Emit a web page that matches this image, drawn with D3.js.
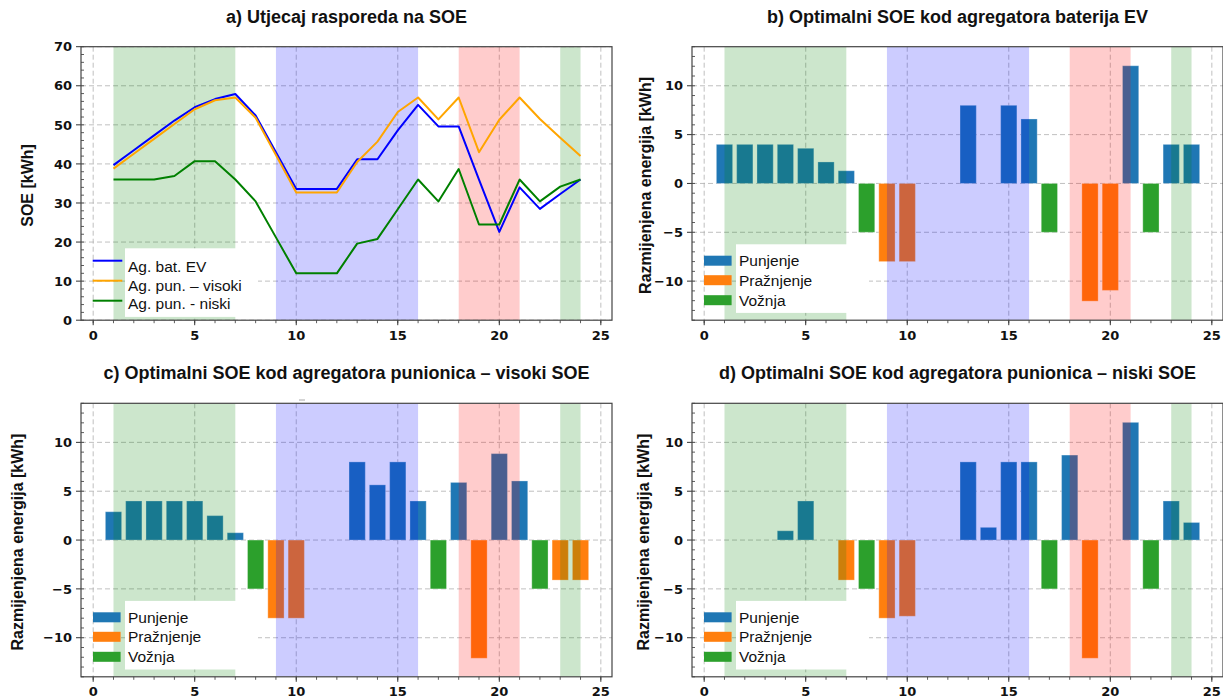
<!DOCTYPE html>
<html>
<head>
<meta charset="utf-8">
<script src="https://cdn.jsdelivr.net/npm/d3@7"></script>
<style>
  body { margin: 0; background: #fff; }
  text { fill: #111; }
</style>
</head>
<body>
<div id="chart"></div>
<script>
// hours of the day
var hours = d3.range(1, 25);

// a) SOE of the three aggregators [kWh]
var soeBat     = [39.7, 43.5, 47.3, 51.1, 54.5, 56.6, 57.9, 52.4, 43.0, 33.6, 33.6, 33.6, 41.2, 41.2, 48.6, 55.1, 49.6, 49.6, 36.0, 22.6, 34.0, 28.5, 32.3, 36.0];
var soeVisoki  = [38.8, 42.6, 46.4, 50.2, 54.0, 56.3, 57.0, 51.8, 42.3, 32.7, 32.7, 32.7, 40.5, 45.7, 53.3, 57.0, 51.4, 57.0, 43.0, 51.3, 57.0, 51.5, 46.7, 42.0];
var soeNiski   = [36.0, 36.0, 36.0, 36.9, 40.7, 40.7, 36.0, 30.4, 21.2, 12.0, 12.0, 12.0, 19.6, 20.8, 28.4, 36.0, 30.4, 38.7, 24.5, 24.5, 36.0, 30.4, 34.2, 36.0];

// exchanged energy [kWh], one value per hour, 0 = no bar
var voznja       = [0, 0, 0, 0, 0, 0, 0, -5, 0, 0, 0, 0, 0, 0, 0, 0, -5, 0, 0, 0, 0, -5, 0, 0];
var bPunjenje    = [4, 4, 4, 4, 3.6, 2.2, 1.3, 0, 0, 0, 0, 0, 8, 0, 8, 6.6, 0, 0, 0, 0, 12.05, 0, 4, 4];
var bPraznjenje  = [0, 0, 0, 0, 0, 0, 0, 0, -8, -8, 0, 0, 0, 0, 0, 0, 0, 0, -12.05, -10.95, 0, 0, 0, 0];
var cPunjenje    = [2.9, 4, 4, 4, 4, 2.5, 0.75, 0, 0, 0, 0, 0, 8, 5.65, 8, 4, 0, 5.9, 0, 8.85, 6.05, 0, 0, 0];
var cPraznjenje  = [0, 0, 0, 0, 0, 0, 0, 0, -8, -8, 0, 0, 0, 0, 0, 0, 0, 0, -12.1, 0, 0, 0, -4.1, -4.1];
var dPunjenje    = [0, 0, 0, 0.95, 4, 0, 0, 0, 0, 0, 0, 0, 8, 1.3, 8, 8, 0, 8.7, 0, 0, 12.05, 0, 4, 1.8];
var dPraznjenje  = [0, 0, 0, 0, 0, 0, -4.1, 0, -8, -7.8, 0, 0, 0, 0, 0, 0, 0, 0, -12.1, 0, 0, 0, 0, 0];

// shaded periods
var spanStart = [1, 9, 18, 23];
var spanEnd   = [7, 16, 21, 24];
var spanColor = ["green", "blue", "red", "green"];

var lineNames = ["Ag. bat. EV", "Ag. pun. \u2013 visoki", "Ag. pun. - niski"];
var barNames  = ["Punjenje", "Pra\u017enjenje", "Vo\u017enja"];

var svg = d3.select("#chart").append("svg")
    .attr("width", 1223)
    .attr("height", 698);

var axW = 531, axH = 273.5;
var panels = [
  {title: "a) Utjecaj rasporeda na SOE", left: 81, top: 46.7, ylabel: "SOE [kWh]", labX: -54, type: "line"},
  {title: "b) Optimalni SOE kod agregatora baterija EV", left: 692, top: 46.7, ylabel: "Razmijenjena energija [kWh]", labX: -47,
   series: [bPunjenje, bPraznjenje, voznja]},
  {title: "c) Optimalni SOE kod agregatora punionica \u2013 visoki SOE", left: 81, top: 403.3, ylabel: "Razmijenjena energija [kWh]", labX: -64,
   series: [cPunjenje, cPraznjenje, voznja]},
  {title: "d) Optimalni SOE kod agregatora punionica \u2013 niski SOE", left: 692, top: 403.3, ylabel: "Razmijenjena energija [kWh]", labX: -49,
   series: [dPunjenje, dPraznjenje, voznja]}
];

var barColors = ["#1f77b4", "#ff7f0e", "#2ca02c"];
var lineColors = ["blue", "orange", "green"];

panels.forEach(function(p) {
  var g = svg.append("g").attr("transform", "translate(" + p.left + "," + p.top + ")");

  var x = d3.scaleLinear().domain([-0.6, 25.55]).range([0, axW]);
  var y = p.type == "line"
      ? d3.scaleLinear().domain([0, 70]).range([axH, 0])
      : d3.scaleLinear().domain([-14, 14]).range([axH, 0]);
  var yMajor = p.type == "line" ? d3.range(0, 71, 10) : [-10, -5, 0, 5, 10];
  var yMinor = p.type == "line" ? d3.range(0, 71, 2) : d3.range(-14, 15, 1);

  var clip = "clip-" + p.title[0];
  g.append("clipPath").attr("id", clip).append("rect").attr("width", axW).attr("height", axH);
  var inner = g.append("g").attr("clip-path", "url(#" + clip + ")");

  // grid
  inner.selectAll(".gx").data([0, 5, 10, 15, 20, 25]).enter().append("line")
      .attr("x1", function(d) { return x(d); }).attr("x2", function(d) { return x(d); })
      .attr("y1", 0).attr("y2", axH)
      .attr("stroke", "#b0b0b0").attr("stroke-width", 0.8).attr("stroke-dasharray", "5,3");
  inner.selectAll(".gy").data(yMajor).enter().append("line")
      .attr("x1", 0).attr("x2", axW)
      .attr("y1", function(d) { return y(d); }).attr("y2", function(d) { return y(d); })
      .attr("stroke", "#b0b0b0").attr("stroke-width", 0.8).attr("stroke-dasharray", "5,3");

  if (p.type != "line") {
    // bars
    p.series.forEach(function(vals, k) {
      inner.append("g").selectAll("rect")
        .data(hours.filter(function(h) { return vals[h - 1] != 0; }))
        .enter().append("rect")
          .attr("x", function(h) { return x(h - 0.4); })
          .attr("width", x(0.8) - x(0))
          .attr("y", function(h) { return y(Math.max(0, vals[h - 1])); })
          .attr("height", function(h) { return Math.abs(y(vals[h - 1]) - y(0)); })
          .attr("fill", barColors[k])
          .attr("stroke", "#fff").attr("stroke-opacity", 0.3).attr("stroke-width", 1);
    });
  }

  // shaded periods
  spanStart.forEach(function(s, i) {
    inner.append("rect")
      .attr("x", x(s)).attr("width", x(spanEnd[i]) - x(s))
      .attr("y", 0).attr("height", axH)
      .attr("fill", spanColor[i]).attr("fill-opacity", 0.2);
  });

  if (p.type == "line") {
    [soeBat, soeVisoki, soeNiski].forEach(function(vals, k) {
      inner.append("path")
        .datum(hours)
        .attr("fill", "none")
        .attr("stroke", lineColors[k])
        .attr("stroke-width", 2)
        .attr("stroke-linejoin", "round")
        .attr("d", d3.line().x(function(h) { return x(h); }).y(function(h) { return y(vals[h - 1]); }));
    });
  }

  // legend
  var boxTop = p.type == "line" ? 201.6 : 197.6;
  g.append("rect").attr("x", 44).attr("y", boxTop).attr("width", 133).attr("height", 68.6).attr("fill", "#fff");
  var rows = p.type == "line" ? [214, 234, 254] : [214, 233.5, 253.5];
  var textRows = p.type == "line" ? [220, 238.5, 256.5] : rows;
  var names = p.type == "line" ? lineNames : barNames;
  names.forEach(function(n, k) {
    if (p.type == "line") {
      g.append("line").attr("x1", 11.7).attr("x2", 41.3).attr("y1", rows[k]).attr("y2", rows[k])
        .attr("stroke", lineColors[k]).attr("stroke-width", 2);
    } else {
      g.append("rect").attr("x", 12).attr("y", rows[k] - 5).attr("width", 27.6).attr("height", 10)
        .attr("fill", barColors[k]);
    }
    g.append("text").attr("x", 47).attr("y", textRows[k]).attr("dy", "0.36em")
      .style("font-family", "Liberation Sans, Arial, sans-serif").style("font-size", "15.5px")
      .text(n);
  });

  // ticks
  var tickCol = "#333";
  g.selectAll(".ymin").data(yMinor).enter().append("line")
    .attr("x1", 0).attr("x2", 3).attr("y1", function(d) { return y(d); }).attr("y2", function(d) { return y(d); })
    .attr("stroke", tickCol).attr("stroke-width", 0.8);
  g.selectAll(".ymaj").data(yMajor).enter().append("line")
    .attr("x1", -5).attr("x2", 0).attr("y1", function(d) { return y(d); }).attr("y2", function(d) { return y(d); })
    .attr("stroke", tickCol).attr("stroke-width", 1);
  g.selectAll(".xmin").data(d3.range(0, 26)).enter().append("line")
    .attr("x1", function(d) { return x(d); }).attr("x2", function(d) { return x(d); })
    .attr("y1", axH).attr("y2", axH + 3)
    .attr("stroke", tickCol).attr("stroke-width", 0.8);
  g.selectAll(".xmaj").data(d3.range(0, 26, 5)).enter().append("line")
    .attr("x1", function(d) { return x(d); }).attr("x2", function(d) { return x(d); })
    .attr("y1", axH).attr("y2", axH + 5)
    .attr("stroke", tickCol).attr("stroke-width", 1);

  var fmt = d3.format("d");
  g.selectAll(".ylab").data(yMajor).enter().append("text")
    .attr("x", -9).attr("y", function(d) { return y(d); }).attr("dy", "0.36em")
    .attr("text-anchor", "end")
    .style("font-family", "DejaVu Sans, sans-serif").style("font-weight", "bold").style("font-size", "13px")
    .text(function(d) { return fmt(d); });
  g.selectAll(".xlab").data(d3.range(0, 26, 5)).enter().append("text")
    .attr("x", function(d) { return x(d); }).attr("y", axH + 19.5)
    .attr("text-anchor", "middle")
    .style("font-family", "DejaVu Sans, sans-serif").style("font-weight", "bold").style("font-size", "13px")
    .text(function(d) { return d; });

  // frame
  g.append("rect").attr("width", axW).attr("height", axH)
    .attr("fill", "none").attr("stroke", "#444").attr("stroke-width", 1.2);

  // axis label and title
  g.append("text")
    .attr("transform", "translate(" + p.labX + "," + (axH / 2 + 2) + ")rotate(-90)")
    .attr("text-anchor", "middle").attr("dy", "0.36em")
    .style("font-family", "Liberation Sans, Arial, sans-serif").style("font-weight", "bold").style("font-size", "16px")
    .text(p.ylabel);
  g.append("text")
    .attr("x", axW / 2).attr("y", -24)
    .attr("text-anchor", "middle")
    .style("font-family", "Liberation Sans, Arial, sans-serif").style("font-weight", "bold").style("font-size", "18px")
    .text(p.title);
});

// small stray mark above panel c
svg.append("line").attr("x1", 299).attr("x2", 305).attr("y1", 400).attr("y2", 400)
  .attr("stroke", "#aaa").attr("stroke-width", 1);
</script>
</body>
</html>
